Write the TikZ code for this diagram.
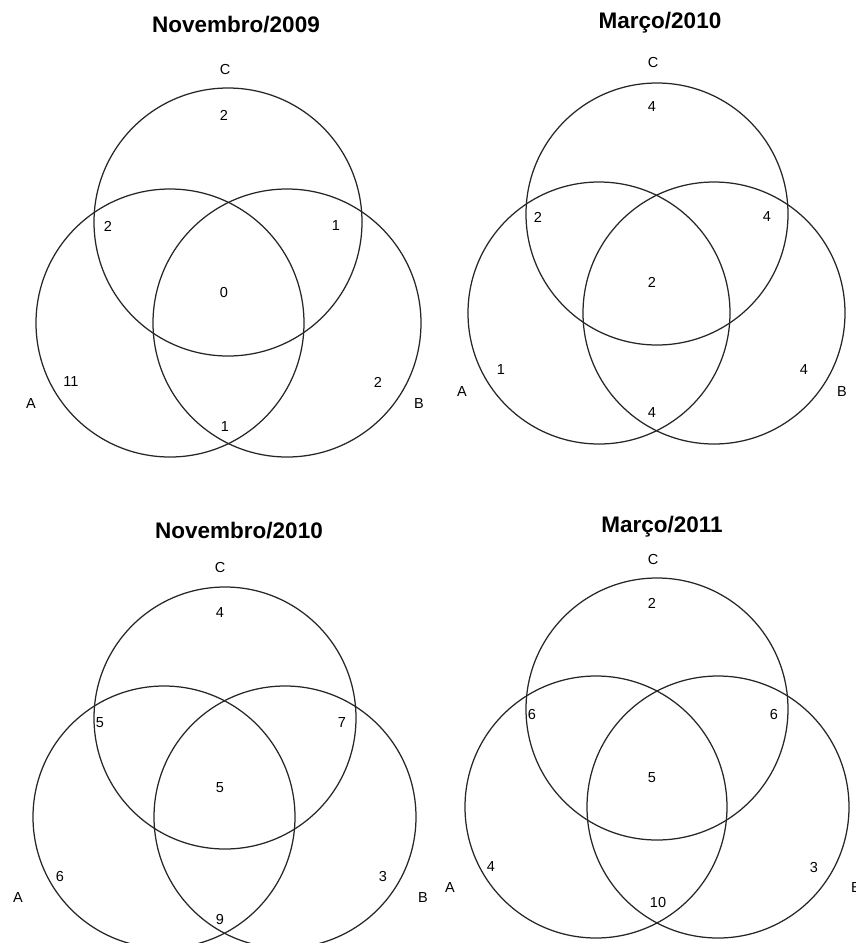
\documentclass[tikz,border=0pt]{standalone}
\usepackage{fontspec}
\setmainfont{Liberation Sans}
\begin{document}
\begin{tikzpicture}[x=1pt,y=-1pt,
  ttl/.style={font=\fontsize{22.5}{26}\selectfont\bfseries, inner sep=0pt},
  lbl/.style={font=\fontsize{14.5}{17}\selectfont, inner sep=0pt},
  setc/.style={circle, draw=black!85, line width=1.25pt, minimum size=264pt, inner sep=0pt}]
\useasboundingbox (0,0) rectangle (855,943);
\begin{scope}
\clip (0,0) rectangle (855,943);
% ---------- Novembro/2009 ----------
\node[ttl] (t1) at (236,25) {Novembro/2009};
\node[setc,minimum size=268pt] (c1) at (228,222) {};
\node[setc,minimum size=268pt] (a1) at (170,323) {};
\node[setc,minimum size=268pt] (b1) at (287,323) {};
\node[lbl] (lc1) at (225,70) {C};
\node[lbl] (la1) at (31,404) {A};
\node[lbl] (lb1) at (419,404) {B};
\node[lbl] (n1c) at (224,115) {2};
\node[lbl] (n1ac) at (108,226) {2};
\node[lbl] (n1bc) at (336,226) {1};
\node[lbl] (n1abc) at (224,293) {0};
\node[lbl] (n1a) at (71,382) {11};
\node[lbl] (n1b) at (378,382) {2};
\node[lbl] (n1ab) at (225,427) {1};
% ---------- Março/2010 ----------
\node[ttl] (t2) at (660,23) {Março/2010};
\node[setc,minimum size=262pt] (c2) at (657,214) {};
\node[setc,minimum size=262pt] (a2) at (599,313) {};
\node[setc,minimum size=262pt] (b2) at (714,313) {};
\node[lbl] (lc2) at (653,63) {C};
\node[lbl] (la2) at (462,392) {A};
\node[lbl] (lb2) at (842,392) {B};
\node[lbl] (n2c) at (652,107) {4};
\node[lbl] (n2ac) at (538,217) {2};
\node[lbl] (n2bc) at (767,217) {4};
\node[lbl] (n2abc) at (652,282) {2};
\node[lbl] (n2a) at (501,370) {1};
\node[lbl] (n2b) at (804,370) {4};
\node[lbl] (n2ab) at (652,413) {4};
% ---------- Novembro/2010 ----------
\node[ttl] (t3) at (239,531) {Novembro/2010};
\node[setc,minimum size=262pt] (c3) at (225,718) {};
\node[setc,minimum size=262pt] (a3) at (164,817) {};
\node[setc,minimum size=262pt] (b3) at (285,817) {};
\node[lbl] (lc3) at (220,568) {C};
\node[lbl] (la3) at (18,898) {A};
\node[lbl] (lb3) at (423,898) {B};
\node[lbl] (n3c) at (220,613) {4};
\node[lbl] (n3ac) at (100,723) {5};
\node[lbl] (n3bc) at (342,723) {7};
\node[lbl] (n3abc) at (220,788) {5};
\node[lbl] (n3a) at (60,876) {6};
\node[lbl] (n3b) at (383,876) {3};
\node[lbl] (n3ab) at (220,919) {9};
% ---------- Março/2011 ----------
\node[ttl] (t4) at (662,527) {Março/2011};
\node[setc,minimum size=262pt] (c4) at (657,709) {};
\node[setc,minimum size=262pt] (a4) at (596,807) {};
\node[setc,minimum size=262pt] (b4) at (718,807) {};
\node[lbl] (lc4) at (653,559) {C};
\node[lbl] (la4) at (450,888) {A};
\node[lbl] (lb4) at (856,888) {B};
\node[lbl] (n4c) at (652,603) {2};
\node[lbl] (n4ac) at (532,714) {6};
\node[lbl] (n4bc) at (774,714) {6};
\node[lbl] (n4abc) at (652,778) {5};
\node[lbl] (n4a) at (491,867) {4};
\node[lbl] (n4b) at (814,867) {3};
\node[lbl] (n4ab) at (658,902) {10};
\end{scope}
\end{tikzpicture}
\end{document}
